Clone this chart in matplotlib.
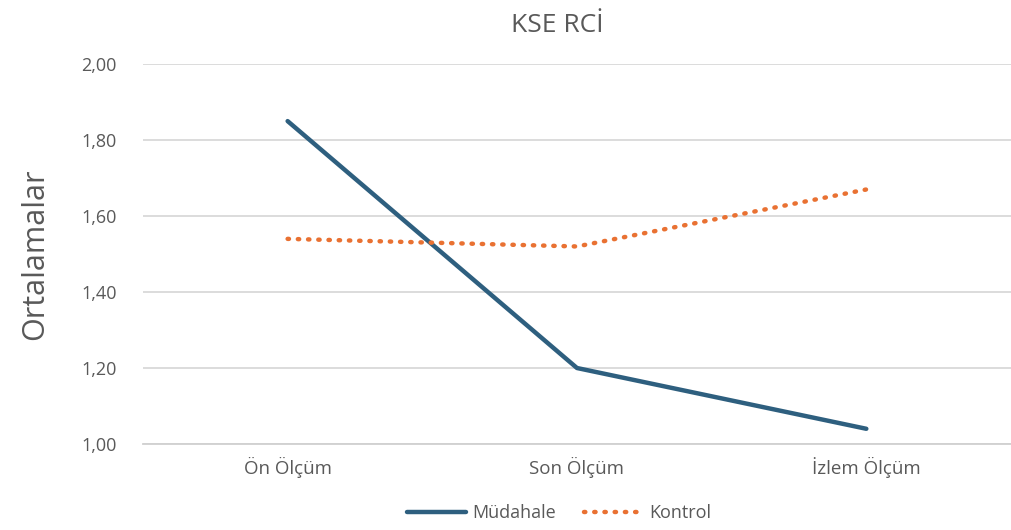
import matplotlib
matplotlib.use("Agg")
import matplotlib.pyplot as plt

# Data
categories = ["Ön Ölçüm", "Son Ölçüm", "İzlem Ölçüm"]
mudahale = [1.85, 1.20, 1.04]
kontrol = [1.54, 1.52, 1.67]
yticks = [1.00, 1.20, 1.40, 1.60, 1.80, 2.00]

plt.rcParams['font.family'] = ['Open Sans', 'DejaVu Sans']
TXT = '#595959'

fig = plt.figure(figsize=(10.11, 5.30), dpi=100)
ax = fig.add_axes([0.1414, 0.1623, 0.8586, 0.7167])

x = range(len(categories))
ax.plot(x, mudahale, color='#2E5F7F', lw=3.2, solid_capstyle='round', label='Müdahale')
ax.plot(x, kontrol, color='#E97132', lw=3.2, linestyle=(0, (0.3, 2.0)),
        dash_capstyle='round', label='Kontrol')

ax.set_xlim(-0.5, 2.5)
ax.set_ylim(1.0, 2.0)
ax.set_yticks(yticks)
ax.set_yticklabels([f"{v:.2f}".replace('.', ',') for v in yticks], color=TXT, fontsize=13)
ax.set_xticks(list(x))
ax.set_xticklabels(categories, color=TXT, fontsize=13.5)
ax.tick_params(axis='both', length=0)
ax.tick_params(axis='y', pad=19)
ax.tick_params(axis='x', pad=9)

ax.grid(axis='y', color='#D9D9D9', lw=1.3)
ax.set_axisbelow(True)
for s in ['top', 'right', 'left']:
    ax.spines[s].set_visible(False)
ax.spines['bottom'].set_color('#D0D0D0')
ax.spines['bottom'].set_linewidth(1.3)

ax.set_ylabel('Ortalamalar', color=TXT, fontsize=22, labelpad=22)
fig.text(0.551, 0.975, 'KSE RCİ', ha='center', va='top', color=TXT, fontsize=19)

fig.legend(loc='lower center', bbox_to_anchor=(0.553, -0.016), ncol=2, frameon=False,
           fontsize=13, labelcolor=TXT, handlelength=3.3, columnspacing=1.6,
           handletextpad=0.3)

fig.savefig('out.png', dpi=100)
